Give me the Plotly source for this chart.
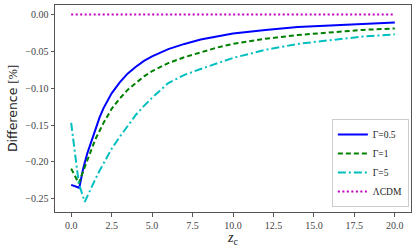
import plotly.graph_objects as go

z_blue = [0, 0.5, 0.75, 1.0, 1.25, 1.5, 1.75, 2.0, 2.5, 3.0, 3.5, 4.0, 4.5, 5.0,
          6.0, 7.0, 8.0, 9.0, 10, 12, 14, 16, 18, 20]
d_blue = [-0.231, -0.235, -0.208, -0.188, -0.172, -0.155, -0.140, -0.127, -0.107,
          -0.092, -0.080, -0.071, -0.063, -0.057, -0.047, -0.040, -0.034, -0.030,
          -0.026, -0.021, -0.017, -0.015, -0.013, -0.011]

z_green = [0, 0.47, 0.75, 1.0, 1.25, 1.5, 1.75, 2.0, 2.5, 3.0, 3.5, 4.0, 4.5, 5.0,
           6.0, 7.0, 8.0, 9.0, 10, 12, 14, 16, 18, 20]
d_green = [-0.209, -0.229, -0.212, -0.198, -0.183, -0.169, -0.158, -0.147, -0.128,
           -0.114, -0.102, -0.093, -0.084, -0.077, -0.066, -0.058, -0.051, -0.045,
           -0.040, -0.033, -0.028, -0.024, -0.021, -0.019]

z_cyan = [0, 0.47, 0.84, 1.0, 1.25, 1.5, 1.75, 2.0, 2.5, 3.0, 3.5, 4.0, 4.5, 5.0,
          6.0, 7.0, 8.0, 9.0, 10, 12, 14, 16, 18, 20]
d_cyan = [-0.147, -0.229, -0.254, -0.246, -0.235, -0.223, -0.212, -0.202, -0.182,
          -0.166, -0.151, -0.136, -0.124, -0.113, -0.093, -0.082, -0.074, -0.066,
          -0.059, -0.048, -0.040, -0.035, -0.030, -0.027]

z_lcdm = [0, 20]
d_lcdm = [0.0, 0.0]

x_ticks = [0, 2.5, 5, 7.5, 10, 12.5, 15, 17.5, 20]
x_ticktext = ["0.0", "2.5", "5.0", "7.5", "10.0", "12.5", "15.0", "17.5", "20.0"]
y_ticks = [0.0, -0.05, -0.10, -0.15, -0.20, -0.25]
y_ticktext = ["0.00", "\u22120.05", "\u22120.10", "\u22120.15", "\u22120.20", "\u22120.25"]

serif = "Liberation Serif"

fig = go.Figure()
fig.add_trace(go.Scatter(x=z_blue, y=d_blue, mode="lines", name="\u0393=0.5",
                         line=dict(color="#0000ff", width=2)))
fig.add_trace(go.Scatter(x=z_green, y=d_green, mode="lines", name="\u0393=1",
                         line=dict(color="#008000", width=2, dash="5px,3px")))
fig.add_trace(go.Scatter(x=z_cyan, y=d_cyan, mode="lines", name="\u0393=5",
                         line=dict(color="#00bfbf", width=2, dash="8px,3px,2px,3px")))
fig.add_trace(go.Scatter(x=z_lcdm, y=d_lcdm, mode="lines", name="\u039bCDM",
                         line=dict(color="#bf00bf", width=2, dash="2px,2.5px")))

fig.update_layout(
    width=415, height=248,
    margin=dict(l=55, r=4, t=5, b=36, autoexpand=False),
    paper_bgcolor="white", plot_bgcolor="white",
    font=dict(family=serif, size=10, color="#333"),
    showlegend=True,
    legend=dict(x=0.994, y=0.024, xanchor="right", yanchor="bottom",
                bgcolor="white", bordercolor="#cccccc", borderwidth=1,
                font=dict(family=serif, size=9.5, color="#222"),
                itemwidth=30, tracegroupgap=0),
    xaxis=dict(range=[-1, 21], tickvals=x_ticks, ticktext=x_ticktext, automargin=False,
               showgrid=False, zeroline=False, showline=True, mirror=True,
               linecolor="#555", linewidth=1, ticks="outside", ticklen=3.5,
               tickcolor="#555", tickfont=dict(family=serif, size=10, color="#444"),
               title=dict(text="<i>z</i><sub>c</sub>", font=dict(family=serif, size=14, color="#222"),
                          standoff=2)),
    yaxis=dict(range=[-0.2678, 0.01275], tickvals=y_ticks, ticktext=y_ticktext, automargin=False,
               showgrid=False, zeroline=False, showline=True, mirror=True,
               linecolor="#555", linewidth=1, ticks="outside", ticklen=3.5,
               tickcolor="#555", tickfont=dict(family=serif, size=10, color="#444"),
               title=dict(text="Difference <span style='font-family:Liberation Serif'>[%]</span>",
                          font=dict(family="DejaVu Sans", size=12.5, color="#222"),
                          standoff=4)),
)

fig.write_html("out.html", config={"displayModeBar": False},
               post_script="document.body.style.margin='0';document.body.style.overflow='hidden';")
